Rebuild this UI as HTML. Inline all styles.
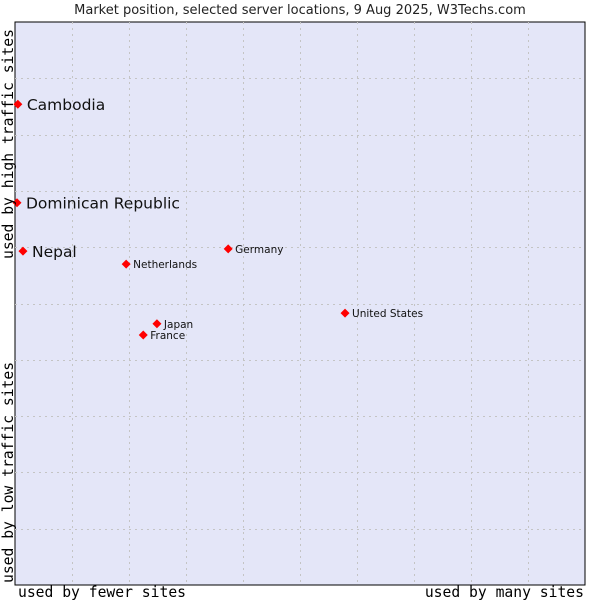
<!DOCTYPE html>
<html><head><meta charset="utf-8"><style>
body{margin:0;background:#fff;font-family:"DejaVu Sans",sans-serif}
svg{display:block}
</style></head><body>
<svg width="600" height="600">
<text x="300" y="14" text-anchor="middle" font-size="13" fill="#222" font-family="DejaVu Sans">Market position, selected server locations, 9 Aug 2025, W3Techs.com</text>
<rect x="15" y="22" width="570" height="563" fill="#e4e6f8" stroke="#000" stroke-width="1"/>
<g id="grid"></g>
<g id="pts"></g>
<text x="18" y="597" font-size="14.7" font-family="DejaVu Sans Mono" fill="#000">used by fewer sites</text>
<text x="584" y="597" text-anchor="end" font-size="14.7" font-family="DejaVu Sans Mono" fill="#000">used by many sites</text>
<text transform="translate(13,583) rotate(-90)" font-size="14.7" font-family="DejaVu Sans Mono" fill="#000">used by low traffic sites</text>
<text transform="translate(13,259) rotate(-90)" font-size="14.7" font-family="DejaVu Sans Mono" fill="#000">used by high traffic sites</text>
</svg>
<script>
const names=["Cambodia","Dominican Republic","Nepal","Netherlands","Germany","United States","Japan","France"];
const xs=[0.5,0.35,1.4,19.5,37.4,57.9,24.9,22.5];
const ys=[85.4,67.9,59.3,57.0,59.7,48.3,46.4,44.4];
const big=[true,true,true,false,false,false,false,false];
const L=15,T=22,W=570,H=563;
const sx=v=>L+v/100*W, sy=v=>T+H-v/100*H;
const NS="http://www.w3.org/2000/svg";
const g=document.getElementById('grid');
for(let i=1;i<10;i++){
 const v=document.createElementNS(NS,'line');
 
 
 const x=Math.round(sx(i*10))+0.5;
 v.setAttribute('x1',x);v.setAttribute('x2',x);v.setAttribute('y1',T);v.setAttribute('y2',T+H);
 v.setAttribute('stroke','#c4c4c4');v.setAttribute('stroke-dasharray','2,4');g.appendChild(v);
 const h=document.createElementNS(NS,'line');
 
 
 const y=Math.round(sy(i*10))+0.5;
 h.setAttribute('y1',y);h.setAttribute('y2',y);h.setAttribute('x1',L);h.setAttribute('x2',L+W);
 h.setAttribute('stroke','#c4c4c4');h.setAttribute('stroke-dasharray','2,4');g.appendChild(h);
}
const p=document.getElementById('pts');
names.forEach((n,i)=>{
 const x=sx(xs[i]),y=sy(ys[i]);
 const d=document.createElementNS(NS,'path');
 
 
 d.setAttribute('d',`M${x-4.5} ${y}L${x} ${y-4.5}L${x+4.5} ${y}L${x} ${y+4.5}Z`);
 d.setAttribute('fill','#f00');p.appendChild(d);
 const t=document.createElementNS(NS,'text');
 
 
 t.setAttribute('x',x+(big[i]?9:7));t.setAttribute('y',y+(big[i]?6:4));
 t.setAttribute('font-size',big[i]?15.5:10.5);t.setAttribute('fill','#111');
 t.textContent=n;p.appendChild(t);
});
</script>
</body></html>
